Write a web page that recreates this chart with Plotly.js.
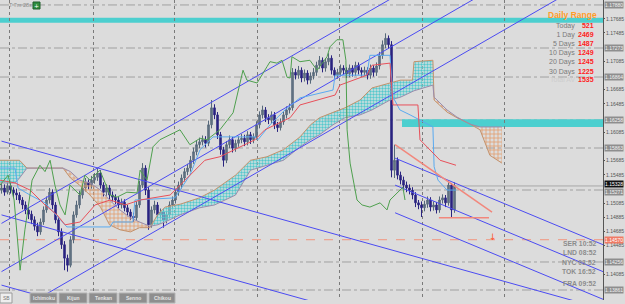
<!DOCTYPE html>
<html><head><meta charset="utf-8">
<script src="https://cdn.plot.ly/plotly-3.0.1.min.js"></script>
<style>html,body{margin:0;padding:0;background:#dcdcdc;}#chart{width:625px;height:304px;}</style>
</head><body><div id="chart"></div>
<script>
// ---------- candles (EURUSD, 1 bar per index) ----------
const opens = [1.1527,1.1530,1.1524,1.1533,1.1527,1.1523,1.1520,1.1513,1.1506,1.1499,
1.1493,1.1485,1.1476,1.1468,1.1482,1.1499,1.1513,1.1524,1.1506,1.1485,
1.1468,1.1450,1.1431,1.1421,1.1457,1.1492,1.1506,1.1520,1.1530,1.1538,
1.1534,1.1541,1.1545,1.1551,1.1534,1.1524,1.1530,1.1520,1.1517,1.1513,
1.1506,1.1510,1.1502,1.1496,1.1490,1.1488,1.1506,1.1534,1.1558,1.1527,
1.1478,1.1499,1.1506,1.1492,1.1496,1.1485,1.1492,1.1506,1.1513,1.1524,
1.1534,1.1544,1.1553,1.1558,1.1569,1.1581,1.1591,1.1595,1.1598,1.1593,
1.1619,1.1643,1.1633,1.1605,1.1584,1.1569,1.1591,1.1598,1.1586,1.1593,
1.1598,1.1600,1.1595,1.1605,1.1598,1.1602,1.1619,1.1633,1.1640,1.1629,
1.1626,1.1633,1.1619,1.1615,1.1623,1.1633,1.1640,1.1643,1.1693,1.1689,
1.1696,1.1685,1.1692,1.1682,1.1688,1.1693,1.1703,1.1710,1.1699,1.1708,
1.1713,1.1696,1.1689,1.1693,1.1699,1.1696,1.1691,1.1699,1.1693,1.1703,
1.1696,1.1693,1.1696,1.1689,1.1699,1.1693,1.1702,1.1717,1.1732,1.1741,
1.1732,1.1555,1.1569,1.1548,1.1541,1.1534,1.1530,1.1527,1.1520,1.1509,
1.1506,1.1502,1.1507,1.1513,1.1503,1.1506,1.1499,1.1513,1.1516,1.1509,
1.1534,1.1499];
const highs = [1.1536,1.1535,1.1540,1.1537,1.1531,1.1529,1.1524,1.1517,1.1511,1.1503,
1.1498,1.1490,1.1481,1.1487,1.1504,1.1518,1.1530,1.1528,1.1510,1.1489,
1.1473,1.1455,1.1436,1.1462,1.1497,1.1512,1.1526,1.1536,1.1544,1.1542,
1.1547,1.1551,1.1558,1.1555,1.1538,1.1535,1.1534,1.1525,1.1521,1.1517,
1.1515,1.1514,1.1506,1.1500,1.1495,1.1511,1.1540,1.1565,1.1562,1.1531,
1.1504,1.1512,1.1510,1.1501,1.1500,1.1497,1.1511,1.1518,1.1529,1.1539,
1.1549,1.1558,1.1564,1.1575,1.1587,1.1597,1.1601,1.1604,1.1603,1.1625,
1.1654,1.1648,1.1637,1.1609,1.1588,1.1596,1.1604,1.1602,1.1598,1.1603,
1.1606,1.1605,1.1610,1.1609,1.1607,1.1624,1.1638,1.1646,1.1644,1.1634,
1.1638,1.1637,1.1623,1.1628,1.1638,1.1645,1.1649,1.1699,1.1698,1.1702,
1.1700,1.1697,1.1696,1.1693,1.1699,1.1708,1.1716,1.1714,1.1713,1.1720,
1.1717,1.1700,1.1698,1.1704,1.1703,1.1700,1.1704,1.1703,1.1708,1.1707,
1.1700,1.1701,1.1700,1.1704,1.1703,1.1707,1.1722,1.1738,1.1748,1.1745,
1.1737,1.1591,1.1573,1.1553,1.1546,1.1539,1.1535,1.1531,1.1524,1.1513,
1.1511,1.1512,1.1518,1.1517,1.1511,1.1510,1.1518,1.1521,1.1520,1.1538,
1.1537,1.1538];
const lows = [1.1522,1.1519,1.1521,1.1522,1.1516,1.1513,1.1508,1.1500,1.1493,1.1486,
1.1479,1.1470,1.1462,1.1464,1.1478,1.1495,1.1508,1.1500,1.1480,1.1462,
1.1444,1.1414,1.1412,1.1418,1.1452,1.1488,1.1501,1.1515,1.1525,1.1528,
1.1529,1.1536,1.1540,1.1529,1.1518,1.1519,1.1514,1.1511,1.1507,1.1500,
1.1501,1.1497,1.1490,1.1485,1.1482,1.1484,1.1502,1.1530,1.1520,1.1471,
1.1474,1.1494,1.1487,1.1487,1.1474,1.1480,1.1488,1.1501,1.1508,1.1519,
1.1529,1.1539,1.1548,1.1553,1.1564,1.1576,1.1586,1.1590,1.1587,1.1589,
1.1614,1.1627,1.1599,1.1577,1.1560,1.1565,1.1586,1.1580,1.1581,1.1588,
1.1593,1.1589,1.1590,1.1592,1.1593,1.1598,1.1614,1.1628,1.1623,1.1620,
1.1621,1.1613,1.1609,1.1611,1.1619,1.1628,1.1635,1.1639,1.1683,1.1684,
1.1679,1.1680,1.1676,1.1677,1.1683,1.1688,1.1698,1.1693,1.1694,1.1703,
1.1690,1.1683,1.1684,1.1688,1.1690,1.1685,1.1686,1.1687,1.1688,1.1690,
1.1687,1.1688,1.1683,1.1684,1.1687,1.1688,1.1697,1.1712,1.1727,1.1726,
1.1545,1.1544,1.1542,1.1535,1.1528,1.1524,1.1521,1.1514,1.1503,1.1500,
1.1489,1.1497,1.1502,1.1497,1.1498,1.1494,1.1495,1.1508,1.1503,1.1505,
1.1488,1.1495];
const closes = [1.1530,1.1524,1.1533,1.1527,1.1523,1.1520,1.1513,1.1506,1.1499,1.1493,
1.1485,1.1476,1.1468,1.1482,1.1499,1.1513,1.1524,1.1506,1.1485,1.1468,
1.1450,1.1431,1.1421,1.1457,1.1492,1.1506,1.1520,1.1530,1.1538,1.1534,
1.1541,1.1545,1.1551,1.1534,1.1524,1.1530,1.1520,1.1517,1.1513,1.1506,
1.1510,1.1502,1.1496,1.1490,1.1488,1.1506,1.1534,1.1558,1.1527,1.1478,
1.1499,1.1506,1.1492,1.1496,1.1485,1.1492,1.1506,1.1513,1.1524,1.1534,
1.1544,1.1553,1.1558,1.1569,1.1581,1.1591,1.1595,1.1598,1.1593,1.1619,
1.1643,1.1633,1.1605,1.1584,1.1569,1.1591,1.1598,1.1586,1.1593,1.1598,
1.1600,1.1595,1.1605,1.1598,1.1602,1.1619,1.1633,1.1640,1.1629,1.1626,
1.1633,1.1619,1.1615,1.1623,1.1633,1.1640,1.1643,1.1693,1.1689,1.1696,
1.1685,1.1692,1.1682,1.1688,1.1693,1.1703,1.1710,1.1699,1.1708,1.1713,
1.1696,1.1689,1.1693,1.1699,1.1696,1.1691,1.1699,1.1693,1.1703,1.1696,
1.1693,1.1696,1.1689,1.1699,1.1693,1.1702,1.1717,1.1732,1.1741,1.1732,
1.1555,1.1569,1.1548,1.1541,1.1534,1.1530,1.1527,1.1520,1.1509,1.1506,
1.1502,1.1507,1.1513,1.1503,1.1506,1.1499,1.1513,1.1516,1.1509,1.1534,
1.1499,1.1533];

// ---------- Ichimoku lines (bar index, price) ----------
const tenkanX = [-0.5,4.5,9.5,14.5,18.5,21.2,26.2,31.2,36.2,41.2,46.2,51.2,56.2,61.2,64.5,67.8,72.8,77.8,84.5,87.8,96.2,99.5,111.2,112.8,121.8,123.5,129.5,130.5,138.8,139.5,146.2,151.5];
const tenkanY = [1.1541,1.1537,1.1527,1.1506,1.1492,1.1478,1.1482,1.1506,1.1513,1.1506,1.1513,1.1516,1.1520,1.1541,1.1555,1.1569,1.1574,1.1584,1.1598,1.1612,1.1629,1.1647,1.1661,1.1675,1.1689,1.1703,1.1706,1.1647,1.1647,1.1598,1.1569,1.1562];
const kijunX = [-0.5,4.5,5.5,9.5,14.5,19.5,21.8,36.2,37.2,43.8,44.5,57.8,62.8,66.2,70.5,84.5,85.5,89.5,94.5,99.5,110.5,111.2,121.8,122.8,129.5,130.5,132.8,136.2,143.8,144.2,145.5,148.5,151.5];
const kijunY = [1.1558,1.1558,1.1530,1.1520,1.1509,1.1485,1.1475,1.1475,1.1482,1.1482,1.1513,1.1516,1.1548,1.1584,1.1602,1.1602,1.1598,1.1619,1.1640,1.1657,1.1668,1.1689,1.1689,1.1717,1.1717,1.1658,1.1640,1.1633,1.1616,1.1560,1.1541,1.1527,1.1527];
const chikouX = [-0.5,2.2,4.2,6.2,7.8,10.2,12.8,14.5,16.2,17.8,19.5,21.2,22.8,26.2,27.8,29.5,32.8,36.2,38.5,41.8,45.2,46.2,48.5,50.5,52.8,56.2,59.5,62.8,66.2,68.5,72.8,77.2,79.5,80.5,81.8,85.2,88.5,89.5,91.8,93.5,95.2,96.2,96.8,99.5,102.8,105.2,108.5,109.5,111.8,113.8,114.8,115.2,116.2,117.2,118.5,120.2,122.8,126.2,128.5,129.5,132.8,133.8,134.5];
const chikouY = [1.1534,1.1548,1.1513,1.1414,1.1471,1.1541,1.1562,1.1553,1.1569,1.1534,1.1506,1.1492,1.1534,1.1520,1.1548,1.1541,1.1555,1.1520,1.1517,1.1524,1.1523,1.1555,1.1541,1.1588,1.1598,1.1605,1.1612,1.1591,1.1600,1.1598,1.1612,1.1636,1.1675,1.1696,1.1682,1.1678,1.1701,1.1708,1.1706,1.1710,1.1686,1.1685,1.1715,1.1708,1.1710,1.1696,1.1715,1.1729,1.1739,1.1739,1.1710,1.1612,1.1565,1.1541,1.1513,1.1506,1.1503,1.1509,1.1499,1.1513,1.1527,1.1531,1.1513];
const cloudX = [-0.5,4.5,6,8.5,20.5,23,26,29.5,33,36,39.5,43,46,49.5,52,54.5,59.5,66,71,78,83,88.5,94,99.5,103,106,110.5,114.5,119.5,123.5,129.5,133,137,137.5,143.8,144.2,148.5,151.8,156.2,159.5,162.8,166.8];
const spanA = [1.1569,1.1569,1.1569,1.1558,1.1558,1.1544,1.1534,1.1520,1.1503,1.1478,1.1471,1.1468,1.1474,1.1474,1.1492,1.1503,1.1507,1.1516,1.1527,1.1548,1.1569,1.1574,1.1584,1.1602,1.1619,1.1629,1.1637,1.1643,1.1654,1.1671,1.1678,1.1682,1.1682,1.1708,1.1710,1.1654,1.1637,1.1629,1.1620,1.1612,1.1576,1.1565];
const spanB = [1.1537,1.1537,1.1544,1.1558,1.1558,1.1553,1.1541,1.1537,1.1527,1.1513,1.1499,1.1488,1.1482,1.1476,1.1478,1.1482,1.1492,1.1502,1.1506,1.1520,1.1555,1.1562,1.1569,1.1588,1.1598,1.1605,1.1619,1.1629,1.1633,1.1640,1.1654,1.1658,1.1665,1.1667,1.1675,1.1658,1.1640,1.1630,1.1620,1.1616,1.1616,1.1616];

// ---------- drawn objects ----------
// channel lines: [x0, y0, x1, y1] in (bar, price)
const upChannel = [[0,1.1480,200,1.1968],[0,1.1412,200,1.1900],[0,1.1344,200,1.1832]];
const downChannelLeft = [[0,1.1596,200,1.1360],[0,1.1492,200,1.1256],[0,1.1393,200,1.1157]];
const downChannelRight = [[131.2,1.1572,200.5,1.1450],[131.2,1.1534,200.5,1.1412],[131.2,1.1495,200.5,1.1373]];
const salmonTrend = [[131.2,1.1591,163.5,1.1496],[145.8,1.1488,162.5,1.1488]];
const arrowPoint = [163.8, 1.1461];
const dashDotLevels = [1.17880,1.17273,1.16864,1.16258,1.15863,1.15271,1.14256,1.13861];
const bidPrice = 1.15328;
const redLevel = 1.14570;
const topZone = [1.1763, 1.1770];
const rightZone = [133.5, 1.1616, 1.1627];
const gridBars = [2.8,30.5,57.8,85.2,112.8,140.2,167.5];
const priceTicks = [1.17685,1.17485,1.17085,1.16685,1.16485,1.16085,1.15685,1.15485,1.15085,1.14885,1.14685,1.14485,1.14085];

// ---------- panel texts ----------
const rangeLabels = ["Today","1 Day","5 Days","10 Days","20 Days","30 Days"];
const rangeValues = ["521","2469","1487","1249","1245","1225"];
const totalLabel = "Total AV";
const totalValue = "1535";
const sessions = ["SER 10:52","LND 08:52","NYC 03:52","TOK 16:52","FRA 09:52"];
const buttons = ["Ichimoku","Kijun","Tenkan","Senno","Chikou"];

const W = 603, H = 300; // plot area in px
const px = v => v / W;
const py = v => 1 - v / H;

const bars = closes.map((_, i) => i);
const traces = [];

// cloud fills
const upper = spanA.map((a, i) => Math.max(a, spanB[i]));
traces.push({x: cloudX, y: spanB, mode: 'lines', line: {width: 0}, hoverinfo: 'skip', showlegend: false});
traces.push({x: cloudX, y: upper, mode: 'lines', line: {width: 0}, fill: 'tonexty', fillcolor: 'rgba(0,0,0,0)',
  fillpattern: {shape: '.', fgcolor: '#55c8cc', bgcolor: 'rgba(200,235,235,0.3)', size: 3, solidity: 0.5}, hoverinfo: 'skip', showlegend: false});
traces.push({x: cloudX, y: spanA, mode: 'lines', line: {width: 0}, hoverinfo: 'skip', showlegend: false});
traces.push({x: cloudX, y: upper, mode: 'lines', line: {width: 0}, fill: 'tonexty', fillcolor: 'rgba(0,0,0,0)',
  fillpattern: {shape: '+', fgcolor: '#e29a6a', bgcolor: 'rgba(0,0,0,0)', size: 4, solidity: 0.35}, hoverinfo: 'skip', showlegend: false});
traces.push({x: cloudX, y: spanA, mode: 'lines', line: {color: '#c4926c', width: 1}, showlegend: false});
traces.push({x: cloudX, y: spanB, mode: 'lines', line: {color: '#9a8cac', width: 1}, showlegend: false});

// channels
const addSeg = (s, color, w) => traces.push({x: [s[0], s[2]], y: [s[1], s[3]], mode: 'lines', line: {color: color, width: w}, showlegend: false, hoverinfo: 'skip'});
upChannel.forEach(s => addSeg(s, '#4b4bf2', 1));
downChannelLeft.forEach(s => addSeg(s, '#4b4bf2', 1));
downChannelRight.forEach(s => addSeg(s, '#4b4bf2', 1));

// ichimoku lines
traces.push({x: kijunX, y: kijunY, mode: 'lines', line: {color: '#5aaaf0', width: 1}, showlegend: false});
traces.push({x: tenkanX, y: tenkanY, mode: 'lines', line: {color: '#e8505a', width: 1}, showlegend: false});
traces.push({x: chikouX, y: chikouY, mode: 'lines', line: {color: '#4ea04e', width: 1}, showlegend: false});

// candles
traces.push({type: 'candlestick', x: bars, open: opens, high: highs, low: lows, close: closes,
  increasing: {line: {color: '#56687a', width: 1}, fillcolor: '#6a7a8a'},
  decreasing: {line: {color: '#2a2480', width: 1}, fillcolor: '#2a2480'},
  whiskerwidth: 0, showlegend: false, hoverinfo: 'skip'});

salmonTrend.forEach(s => addSeg(s, '#f2877c', 1.5));

const shapes = [];
const annotations = [];
const lab = (o) => annotations.push(Object.assign({showarrow: false, xanchor: 'center', yanchor: 'middle'}, o));
const boxFont = {size: 5, color: '#f2f2f2', family: 'Liberation Sans'};
// zones
shapes.push({type: 'rect', xref: 'paper', x0: 0, x1: 1, yref: 'y', y0: topZone[0], y1: topZone[1], fillcolor: '#4ccfcf', line: {width: 0}, layer: 'below'});
shapes.push({type: 'rect', xref: 'x', x0: rightZone[0], x1: 200.5, yref: 'y', y0: rightZone[1], y1: rightZone[2], fillcolor: '#4ccfcf', line: {width: 0}, layer: 'below'});
dashDotLevels.forEach((v, i) => {
  shapes.push({type: 'line', xref: 'paper', x0: 0, x1: 1, yref: 'y', y0: v, y1: v, line: {color: '#a0a0a0', width: 1, dash: 'dashdot'}, layer: 'below'});
  lab({xref: 'paper', x: 1, xanchor: 'left', xshift: 1, yref: 'y', y: v, yshift: (i === 5 ? -2 : 0), text: v.toFixed(5),
    font: boxFont, bgcolor: '#8e8e8e', borderpad: 0});
});
shapes.push({type: 'line', xref: 'paper', x0: 0, x1: 1, yref: 'y', y0: bidPrice, y1: bidPrice, line: {color: '#a8a8a8', width: 1}, layer: 'below'});
shapes.push({type: 'line', xref: 'paper', x0: 0, x1: 1, yref: 'y', y0: redLevel, y1: redLevel, line: {color: '#f2957e', width: 1, dash: 'dash'}, layer: 'below'});
lab({xref: 'paper', x: 1, xanchor: 'left', xshift: 1, yref: 'y', y: bidPrice, yshift: 2, text: bidPrice.toFixed(5),
  font: {size: 5, color: '#ffffff', family: 'Liberation Sans'}, bgcolor: '#111111', borderpad: 0});
lab({xref: 'paper', x: 1, xanchor: 'left', xshift: 1, yref: 'y', y: redLevel, text: redLevel.toFixed(5),
  font: {size: 5, color: '#ffffff', family: 'Liberation Sans'}, bgcolor: '#f07a64', borderpad: 0});
lab({xref: 'x', yref: 'y', x: arrowPoint[0], y: arrowPoint[1], text: '↓', font: {size: 9, color: '#ff5530', family: 'DejaVu Sans'}});

// daily range panel
lab({xref: 'paper', yref: 'paper', x: px(572), y: py(14.5), text: '<b>Daily Range</b>', borderpad: 0, font: {size: 8.5, color: '#ff9c2a', family: 'Liberation Sans'}});
lab({xref: 'paper', yref: 'paper', x: px(576), xanchor: 'right', yanchor: 'top', y: py(20.5), align: 'right', borderpad: 0,
  text: rangeLabels.join('<br>'), font: {size: 7, color: '#7a7a7a', family: 'Liberation Sans'}});
lab({xref: 'paper', yref: 'paper', x: px(595), xanchor: 'right', yanchor: 'top', y: py(20.5), align: 'right', borderpad: 0,
  text: rangeValues.map(v => '<b>' + v + '</b>').join('<br>'), font: {size: 7, color: '#ff1c1c', family: 'Liberation Sans'}});
lab({xref: 'paper', yref: 'paper', x: px(576), xanchor: 'right', y: py(80), text: totalLabel, borderpad: 0,
  font: {size: 7, color: '#cdcdcd', family: 'Liberation Sans'}});
lab({xref: 'paper', yref: 'paper', x: px(595), xanchor: 'right', y: py(80), text: '<b>' + totalValue + '</b>', borderpad: 0,
  font: {size: 7, color: '#ff1c1c', family: 'Liberation Sans'}});
// sessions
const sesY = [243, 252, 262, 271, 283];
sessions.forEach((t, i) => lab({xref: 'paper', yref: 'paper', x: px(597), xanchor: 'right', y: py(sesY[i]), text: '<b>' + t + '</b>', borderpad: 0,
  font: {size: 6.8, color: '#8c8c8c', family: 'Liberation Sans'}}));
// top-left timer + icon
lab({xref: 'paper', yref: 'paper', x: px(7), xanchor: 'left', y: py(5), text: 'T 7m 28s', font: {size: 5.5, color: '#8a8a8a', family: 'Liberation Sans'}});
shapes.push({type: 'rect', xref: 'paper', yref: 'paper', x0: px(33), x1: px(40), y0: py(9), y1: py(2), fillcolor: '#2f8f3f', line: {color: '#1f5f2a', width: 1}, layer: 'above'});
lab({xref: 'paper', yref: 'paper', x: px(36.5), y: py(5.5), text: '+', font: {size: 6, color: '#ffffff', family: 'DejaVu Sans'}});
// bottom buttons
shapes.push({type: 'rect', xref: 'paper', yref: 'paper', x0: px(0), x1: px(12), y0: py(303), y1: py(293), fillcolor: '#eeeeee', line: {color: '#9a9a9a', width: 1}, layer: 'above'});
lab({xref: 'paper', yref: 'paper', x: px(6), y: py(298), text: 'SB', font: {size: 5, color: '#777', family: 'Liberation Sans'}});
const btnX = [[30,57],[59,87],[89,117],[119,147],[149,175]];
buttons.forEach((t, i) => {
  shapes.push({type: 'rect', xref: 'paper', yref: 'paper', x0: px(btnX[i][0]), x1: px(btnX[i][1]), y0: py(303), y1: py(293), fillcolor: '#8e8e8e', line: {color: '#b4b4b4', width: 1}, layer: 'above'});
  lab({xref: 'paper', yref: 'paper', x: px((btnX[i][0] + btnX[i][1]) / 2), y: py(298), text: '<b>' + t + '</b>', font: {size: 5, color: '#e4e4e4', family: 'Liberation Sans'}});
});

const layout = {
  width: 625, height: 304,
  margin: {l: 0, r: 22, t: 0, b: 4, pad: 0},
  paper_bgcolor: '#dcdcdc', plot_bgcolor: '#dcdcdc',
  showlegend: false,
  xaxis: {range: [-0.5, 200.5], type: 'linear', tickvals: gridBars, showticklabels: false, ticks: '',
    showgrid: true, gridcolor: '#7a7a7a', griddash: 'dot', gridwidth: 1, zeroline: false, showline: false,
    rangeslider: {visible: false}, fixedrange: true},
  yaxis: {side: 'right', range: [1.1372, 1.1795], tickvals: priceTicks, ticktext: priceTicks.map(v => v.toFixed(5)),
    tickfont: {size: 5, color: '#555', family: 'Liberation Sans'}, ticks: 'outside', ticklen: 1, tickcolor: '#555',
    showgrid: false, zeroline: false, showline: true, linecolor: '#555', linewidth: 1, fixedrange: true},
  shapes: shapes, annotations: annotations
};
Plotly.newPlot('chart', traces, layout, {displayModeBar: false, staticPlot: true});
</script></body></html>
